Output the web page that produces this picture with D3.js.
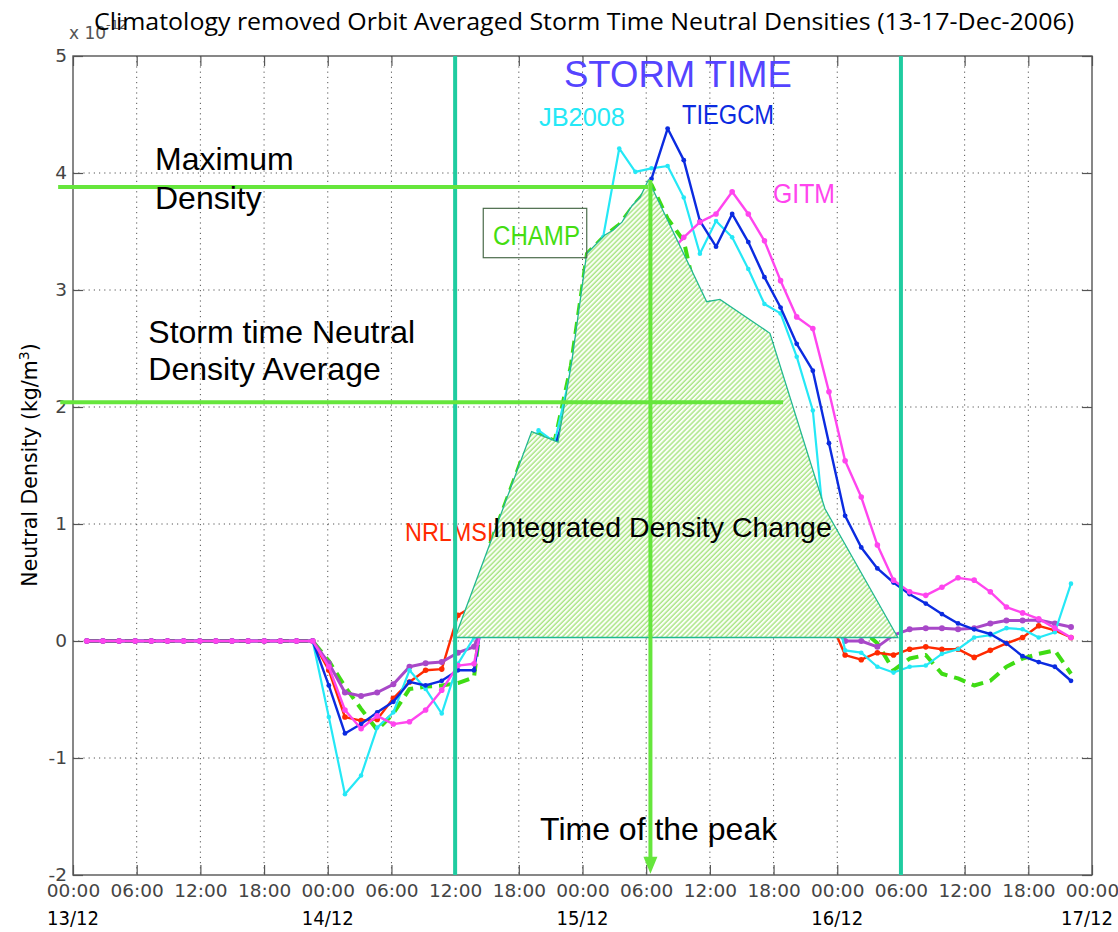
<!DOCTYPE html>
<html>
<head>
<meta charset="utf-8">
<script src="https://d3js.org/d3.v7.min.js"></script>
<style>
	body{ margin:0; background:#fff; }
	svg{ display:block; }
	.tick text{ font-family:"DejaVu Sans"; fill:#444; }
</style>
</head>
<body>
<div class="container"></div>
<script>
// orbit averaged samples, hours after 13/12 00:00
var hours = [1.30, 2.82, 4.34, 5.86, 7.38, 8.90, 10.42, 11.94, 13.46, 14.98,
	16.50, 18.02, 19.54, 21.06, 22.58, 24.10, 25.62, 27.14, 28.66, 30.18,
	31.70, 33.22, 34.74, 36.26, 37.78, 39.30, 40.82, 42.34, 43.86, 45.38,
	46.90, 48.42, 49.94, 51.46, 52.98, 54.50, 56.02, 57.54, 59.06, 60.58,
	62.10, 63.62, 65.14, 66.66, 68.18, 69.70, 71.22, 72.74, 74.26, 75.78,
	77.30, 78.82, 80.34, 81.86, 83.38, 84.90, 86.42, 87.94, 89.46, 90.98,
	92.50, 94.02];

// climatology removed densities (x 1e-12 kg/m3)
var champ = [0,0,0,0,0,0,0,0,0,0,0,0,0,0,0,
	-0.17,-0.39,-0.58,-0.76,-0.62,-0.41,-0.39,-0.38,-0.36,-0.31,
	0.83,1.20,1.57,1.77,1.71,2.35,3.31,3.45,3.56,3.74,3.90,3.61,3.42,2.80,2.60,
	2.40,2.20,1.90,1.50,1.20,0.90,0.60,0.35,0.10,-0.02,
	-0.25,-0.15,-0.12,-0.28,-0.32,-0.38,-0.34,-0.22,-0.15,-0.11,-0.08,-0.28];
var nrlmsis = [0,0,0,0,0,0,0,0,0,0,0,0,0,0,0,
	-0.25,-0.65,-0.68,-0.67,-0.49,-0.35,-0.25,-0.24,0.22,0.30,
	0.50,0.70,0.90,1.00,1.10,1.20,1.40,1.50,1.60,1.60,1.70,1.60,1.50,1.40,1.30,
	1.20,1.10,1.00,0.80,0.60,0.40,0.20,-0.12,-0.16,-0.10,
	-0.12,-0.07,-0.05,-0.07,-0.07,-0.14,-0.08,-0.02,0.03,0.13,0.09,0.03];
var dtm = [0,0,0,0,0,0,0,0,0,0,0,0,0,0,0,
	-0.19,-0.44,-0.47,-0.44,-0.37,-0.22,-0.19,-0.18,-0.10,-0.05,
	0.30,0.50,0.65,0.80,0.85,0.95,1.00,1.05,1.10,1.10,1.10,1.05,1.00,0.95,0.90,
	0.85,0.80,0.70,0.60,0.45,0.30,0.15,0.00,0.00,-0.05,
	0.05,0.10,0.11,0.11,0.10,0.11,0.15,0.175,0.175,0.18,0.15,0.12];
var jb2008 = [0,0,0,0,0,0,0,0,0,0,0,0,0,0,0,
	-0.65,-1.31,-1.15,-0.74,-0.61,-0.25,-0.41,-0.62,-0.195,0.03,
	0.70,1.10,1.50,1.80,1.70,2.30,3.20,3.45,4.21,4.01,4.04,4.06,3.79,3.31,3.59,
	3.45,3.18,2.88,2.80,2.43,1.97,0.55,-0.08,-0.10,-0.22,
	-0.27,-0.22,-0.21,-0.11,-0.07,0.03,0.05,0.11,0.10,0.03,0.075,0.49];
var tiegcm = [0,0,0,0,0,0,0,0,0,0,0,0,0,0,0,
	-0.38,-0.79,-0.71,-0.61,-0.52,-0.35,-0.38,-0.34,-0.25,-0.25,
	0.60,1.00,1.40,1.60,1.65,2.10,2.70,3.10,3.30,3.50,3.95,4.38,4.11,3.59,3.37,
	3.65,3.41,3.11,2.85,2.54,2.31,1.69,1.07,0.80,0.62,
	0.50,0.40,0.32,0.23,0.15,0.10,0.06,-0.02,-0.13,-0.18,-0.22,-0.34];
var gitm = [0,0,0,0,0,0,0,0,0,0,0,0,0,0,0,
	-0.22,-0.59,-0.75,-0.64,-0.71,-0.69,-0.59,-0.42,-0.21,-0.195,
	0.50,0.90,1.30,1.50,1.60,2.00,2.50,2.80,3.00,3.20,3.30,3.30,3.45,3.58,3.65,
	3.84,3.65,3.42,3.08,2.77,2.67,2.13,1.54,1.23,0.82,
	0.52,0.42,0.39,0.46,0.54,0.52,0.42,0.29,0.24,0.19,0.11,0.03];

// integrated density change area (hour, value)
var areaHours  = [35.99, 43.21, 45.69, 47.01, 48.39, 50.12, 50.87, 51.72, 52.66, 53.42, 54.20, 59.70, 60.95, 65.66, 70.84, 77.71];
var areaValues = [0.03, 1.79, 1.70, 2.40, 3.31, 3.47, 3.51, 3.58, 3.72, 3.79, 3.94, 2.90, 2.92, 2.63, 1.13, 0.03];

var stormStart = 36, stormEnd = 78, peakHour = 54.4;
var maxDensity = 3.88, avgDensity = 2.04;

var xTickHours = [0,6,12,18,24,30,36,42,48,54,60,66,72,78,84,90,96];
var xTickLabels = ["00:00","06:00","12:00","18:00","00:00","06:00","12:00","18:00",
	"00:00","06:00","12:00","18:00","00:00","06:00","12:00","18:00","00:00"];
var dayHours = [0,24,48,72,96];
var dayLabels = ["13/12","14/12","15/12","16/12","17/12"];
var yTicks = [-2,-1,0,1,2,3,4,5];

var lineStyle = {
	champ:   {color:"#3fdc14", width:4,   dash:"12,7", marker:0},
	nrlmsis: {color:"#ff2a00", width:2.4, dash:null,   marker:2.8},
	dtm:     {color:"#a848c8", width:3,   dash:null,   marker:3},
	jb2008:  {color:"#25e8f6", width:2.2, dash:null,   marker:2.3},
	tiegcm:  {color:"#0b2be0", width:2.4, dash:null,   marker:2.4},
	gitm:    {color:"#ff45ee", width:2.4, dash:null,   marker:2.8}
};
var series = [["champ",champ],["nrlmsis",nrlmsis],["dtm",dtm],["jb2008",jb2008],["tiegcm",tiegcm],["gitm",gitm]];

var W = 1118, H = 932;
var x = d3.scaleLinear().domain([0,96]).range([73,1092]);
var y = d3.scaleLinear().domain([-2,5]).range([875,56]);

var svg = d3.select(".container").append("svg").attr("width",W).attr("height",H);

var pat = svg.append("defs").append("pattern")
	.attr("id","hatch").attr("patternUnits","userSpaceOnUse")
	.attr("width",3.5).attr("height",3.5).attr("patternTransform","rotate(45)");
pat.append("rect").attr("width",3.5).attr("height",3.5).attr("fill","#fbfff8");
pat.append("line").attr("x1",1).attr("y1",0).attr("x2",1).attr("y2",3.5)
	.attr("stroke","#9be070").attr("stroke-width",1.2);

// dotted grid
svg.append("g").selectAll("line").data(xTickHours.slice(1,-1)).enter().append("line")
	.attr("x1",function(d){return x(d);}).attr("x2",function(d){return x(d);})
	.attr("y1",y(5)).attr("y2",y(-2))
	.attr("stroke","#555").attr("stroke-dasharray","1.2,4");
svg.append("g").selectAll("line").data(yTicks.slice(1,-1)).enter().append("line")
	.attr("y1",function(d){return y(d);}).attr("y2",function(d){return y(d);})
	.attr("x1",x(0)).attr("x2",x(96))
	.attr("stroke","#555").attr("stroke-dasharray","1.2,4");

// axes (inward ticks)
var gx = svg.append("g").attr("transform","translate(0,"+y(-2)+")")
	.call(d3.axisBottom(x).tickValues(xTickHours).tickSize(-10).tickSizeOuter(0).tickPadding(9)
		.tickFormat(function(d,i){return xTickLabels[i];}));
var gt = svg.append("g").attr("transform","translate(0,"+y(5)+")")
	.call(d3.axisTop(x).tickValues(xTickHours).tickSize(-10).tickSizeOuter(0).tickFormat(""));
var gy = svg.append("g").attr("transform","translate("+x(0)+",0)")
	.call(d3.axisLeft(y).tickValues(yTicks).tickSize(-10).tickSizeOuter(0).tickPadding(6)
		.tickFormat(function(d){return String(d);}));
var gr = svg.append("g").attr("transform","translate("+x(96)+",0)")
	.call(d3.axisRight(y).tickValues(yTicks).tickSize(-10).tickSizeOuter(0).tickFormat(""));
[gx,gt,gy,gr].forEach(function(g){
	g.select(".domain").remove();
	g.selectAll(".tick line").attr("stroke","#555").attr("stroke-width",1.2);
	g.selectAll(".tick text").attr("font-size",18.5);
});

svg.append("rect").attr("x",x(0)).attr("y",y(5))
	.attr("width",x(96)-x(0)).attr("height",y(-2)-y(5))
	.attr("fill","none").attr("stroke","#555").attr("stroke-width",1.4);

// day labels, kept inside the page
svg.append("g").selectAll("text").data(dayLabels).enter().append("text")
	.attr("x",function(d,i){return Math.min(x(dayHours[i]), W-31);}).attr("y",925)
	.attr("text-anchor","middle").attr("font-family","DejaVu Sans").attr("font-size",20)
	.attr("textLength",52).attr("lengthAdjust","spacingAndGlyphs")
	.text(function(d){return d;});

// series
var line = d3.line().x(function(d){return x(d[0]);}).y(function(d){return y(d[1]);});
series.forEach(function(s){
	var st = lineStyle[s[0]];
	var pts = hours.map(function(h,i){return [h, s[1][i]];});
	svg.append("path").attr("d",line(pts)).attr("fill","none")
		.attr("stroke",st.color).attr("stroke-width",st.width)
		.attr("stroke-dasharray",st.dash).attr("stroke-linejoin","round");
	if(st.marker){
		svg.append("g").selectAll("circle").data(pts).enter().append("circle")
			.attr("cx",function(d){return x(d[0]);}).attr("cy",function(d){return y(d[1]);})
			.attr("r",st.marker).attr("fill",st.color);
	}
});

function label(txt, h, v, size, color, len){
	var t = svg.append("text").attr("x",x(h)).attr("y",y(v))
		.attr("font-family","Liberation Sans, Arial").attr("font-size",size)
		.attr("fill",color).text(txt);
	if(len) t.attr("textLength",len).attr("lengthAdjust","spacingAndGlyphs");
	return t;
}

label("NRLMSIS", 31.28, 0.855, 26, "#ff2a00", 104);

// integrated density change area
var areaPts = areaHours.map(function(h,i){return [h, areaValues[i]];});
svg.append("path").attr("d",line(areaPts)+"Z")
	.attr("fill","url(#hatch)").attr("stroke","#22b890").attr("stroke-width",1.3);

// storm time bounds
svg.append("g").selectAll("line").data([stormStart, stormEnd]).enter().append("line")
	.attr("x1",function(d){return x(d);}).attr("x2",function(d){return x(d);})
	.attr("y1",y(5)).attr("y2",y(-2))
	.attr("stroke","#1fcca0").attr("stroke-width",4);

// annotation lines
var ann = "#66e63c";
svg.append("line").attr("x1",x(-1.4)).attr("x2",x(54.2)).attr("y1",y(maxDensity)).attr("y2",y(maxDensity))
	.attr("stroke",ann).attr("stroke-width",4);
svg.append("line").attr("x1",x(-1.2)).attr("x2",x(66.9)).attr("y1",y(avgDensity)).attr("y2",y(avgDensity))
	.attr("stroke",ann).attr("stroke-width",4);
svg.append("line").attr("x1",x(peakHour)).attr("x2",x(peakHour)).attr("y1",y(3.94)).attr("y2",y(-1.99)-14)
	.attr("stroke",ann).attr("stroke-width",4);
svg.append("path")
	.attr("d","M"+(x(peakHour)-7)+","+(y(-1.99)-17)+"L"+(x(peakHour)+7)+","+(y(-1.99)-17)+"L"+x(peakHour)+","+y(-1.99)+"Z")
	.attr("fill",ann);

// text annotations
label("STORM TIME", 46.26, 4.732, 36.5, "#5544ff");
label("JB2008", 43.90, 4.402, 26, "#25e8f6", 86);
label("TIEGCM", 57.38, 4.419, 27, "#0b2be0", 92);
label("GITM", 65.95, 3.746, 27, "#ff45ee", 62);
svg.append("rect").attr("x",x(38.65)).attr("y",y(3.698))
	.attr("width",x(48.40)-x(38.65)).attr("height",y(3.276)-y(3.698))
	.attr("fill","none").attr("stroke","#4a6b4a").attr("stroke-width",1.2);
label("CHAMP", 39.57, 3.385, 27, "#44dd11", 87);
label("Integrated Density Change", 39.54, 0.891, 28.5, "#000");
label("Maximum", 7.725, 4.026, 32, "#000");
label("Density", 7.725, 3.690, 32, "#000");
label("Storm time Neutral", 7.094, 2.544, 32, "#000");
label("Density Average", 7.094, 2.231, 32, "#000");
label("Time of the peak", 44.0, -1.701, 32, "#000");

// y label and exponent
var yl = svg.append("text").attr("transform","translate(37,465) rotate(-90)")
	.attr("text-anchor","middle").attr("font-family","DejaVu Sans").attr("font-size",20.5).attr("fill","#000");
yl.append("tspan").text("Neutral Density (kg/m");
yl.append("tspan").attr("dy",-8).attr("font-size",14).text("3");
yl.append("tspan").attr("dy",8).text(")");

var ex = svg.append("text").attr("x",69).attr("y",39)
	.attr("font-family","DejaVu Sans").attr("font-size",17).attr("fill","#555");
ex.append("tspan").text("x 10");
ex.append("tspan").attr("dy",-10).attr("font-size",13).text("-12");

svg.append("text").attr("x",584).attr("y",30).attr("text-anchor","middle")
	.attr("font-family","Open Sans").attr("font-size",23).attr("fill","#000")
	.attr("textLength",980).attr("lengthAdjust","spacingAndGlyphs")
	.text("Climatology removed Orbit Averaged Storm Time Neutral Densities (13-17-Dec-2006)");
</script>
</body>
</html>
